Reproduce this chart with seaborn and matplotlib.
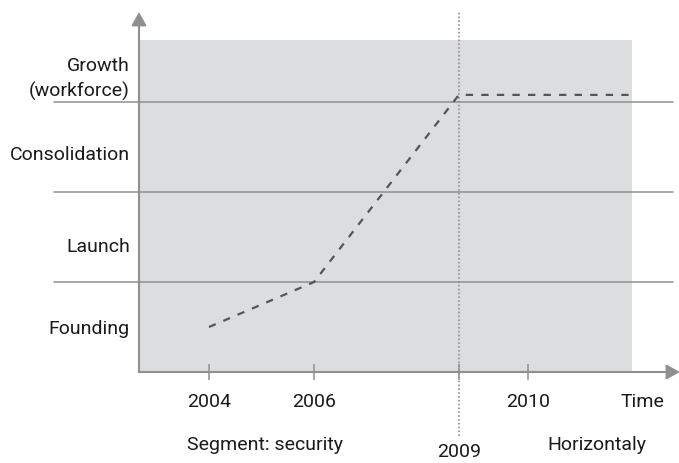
import matplotlib.pyplot as plt
import seaborn as sns

# stages on the y axis, one band per stage (bottom to top)
stages = ["Founding", "Launch", "Consolidation", "Growth\n(workforce)"]
stage_label_pos = [0.51, 1.42, 2.44, 3.33]
stage_bounds = [1, 2, 3]

# timeline ticks (schematic spacing)
years = ["2004", "2006", "2009", "2010"]
year_pos = [2004, 2006, 2008.76, 2010.08]

# path of the company through the stages
path_x = [2004, 2006, 2008.76, 2012.06]
path_y = [0.5, 1.0, 3.08, 3.08]

# extra labels under the time axis
note_text = ["Time", "Segment: security", "Horizontaly"]
note_x = [2012.25, 2005.07, 2011.39]
note_dy = [-29, -72, -72]

GRAY = "#8f8f8f"
TEXT = "#1a1a1a"

sns.set_style("white")
plt.rcParams["font.family"] = ["Roboto", "DejaVu Sans"]
plt.rcParams["font.size"] = 14

fig = plt.figure(figsize=(6.79, 4.64), dpi=100)
ax = fig.add_axes([139 / 679, 91 / 464, 493 / 679, 332 / 464])
ax.set_facecolor("#dcdddf")
ax.set_xlim(2002.667, 2012.057)
ax.set_ylim(0, 3.69)
for s in ax.spines.values():
    s.set_visible(False)

# stage boundaries, running past the shaded area on both sides
for b in stage_bounds:
    ax.axhline(b, xmin=-0.172, xmax=1.083, color=GRAY, lw=1.1, clip_on=False, zorder=1)

# dotted marker at 2009
ax.axvline(year_pos[2], ymin=-0.193, ymax=1.087, color=GRAY, lw=1.2, ls=(0, (1, 1.3)),
           clip_on=False, zorder=1)

sns.lineplot(x=path_x, y=path_y, ax=ax, color="#555555", lw=1.6,
             linestyle=(0, (3.3, 3.7)), zorder=3)

# axis arrows
arrow = dict(arrowstyle="-|>,head_length=0.8,head_width=0.45", color=GRAY, lw=1.5,
             shrinkA=0, shrinkB=0, mutation_scale=10)
ax.annotate("", xy=(0, 1.084), xytext=(0, 0), xycoords="axes fraction", arrowprops=arrow)
ax.annotate("", xy=(1.097, 0), xytext=(0, 0), xycoords="axes fraction", arrowprops=arrow)

ax.set_xticks(year_pos, labels=[y if y != "2009" else "" for y in years])
ax.tick_params(axis="x", bottom=True, direction="inout", length=11.5, width=1.1,
               color=GRAY, pad=9, labelcolor=TEXT)
ax.annotate(years[2], xy=(year_pos[2], 0), xycoords=("data", "axes fraction"),
            xytext=(0, -79), textcoords="offset pixels", ha="center", va="center", color=TEXT)

ax.set_yticks(stage_label_pos, labels=stages)
ax.tick_params(axis="y", left=False, length=0, pad=6.5, labelcolor=TEXT)
for lab in ax.get_yticklabels():
    lab.set_linespacing(1.45)

for t, x, dy in zip(note_text, note_x, note_dy):
    ax.annotate(t, xy=(x, 0), xycoords=("data", "axes fraction"), xytext=(0, dy),
                textcoords="offset pixels", ha="center", va="center", color=TEXT)

fig.savefig("out.png", dpi=100)
